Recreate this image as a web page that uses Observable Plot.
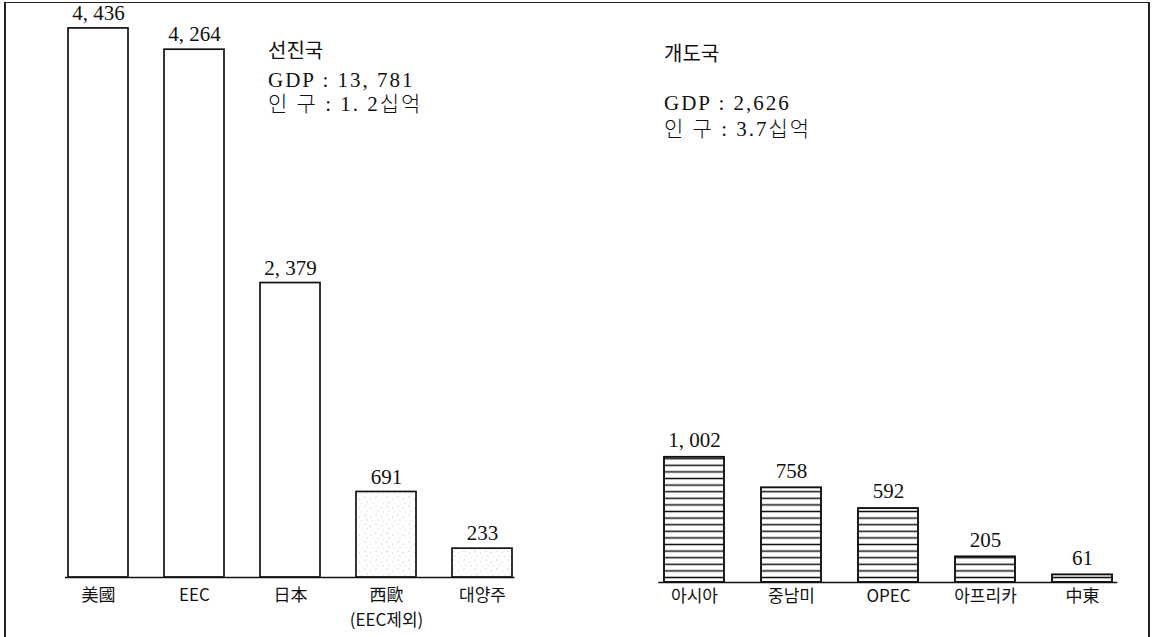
<!DOCTYPE html>
<html><head><meta charset="utf-8">
<script src="https://cdn.jsdelivr.net/npm/d3@7"></script>
<script src="https://cdn.jsdelivr.net/npm/@observablehq/plot@0.6"></script>
<style>
body{margin:0;background:#fff;}
#wrap{position:relative;width:1157px;height:637px;overflow:hidden;background:#fff;}
.frame{position:absolute;left:4px;top:2px;width:1146px;height:700px;border:2px solid #222;border-top-width:1.5px;box-sizing:border-box;}
.hdr{position:absolute;font-family:"Noto Sans CJK KR";font-size:20px;line-height:24px;color:#111;white-space:pre;}
.info{position:absolute;font-family:"Liberation Serif","Noto Sans CJK KR";font-weight:300;font-size:21px;line-height:24px;color:#111;white-space:pre;letter-spacing:2px;}
.plot{position:absolute;top:0;}
</style></head><body>
<div id="wrap">
<div class="frame"></div>
<div class="hdr" style="left:268px;top:38px">선진국</div>
<div class="info" style="left:268px;top:68px">GDP : 13, 781</div>
<div class="info" style="left:268px;top:92px">인 구 : 1. 2십억</div>
<div class="hdr" style="left:664px;top:41px">개도국</div>
<div class="info" style="left:664px;top:91px">GDP : 2,626</div>
<div class="info" style="left:664px;top:117px">인 구 : 3.7십억</div>
</div>
<script>
// 선진국 (developed)
const devNames = ["美國", "EEC", "日本", "西歐", "대양주"];
const devValues = [4436, 4264, 2379, 691, 233];
const devValueLabels = ["4, 436", "4, 264", "2, 379", "691", "233"];
const devTicks = ["美國", "EEC", "日本", "西歐\n(EEC제외)", "대양주"];
// 개도국 (developing)
const lessNames = ["아시아", "중남미", "OPEC", "아프리카", "中東"];
const lessValues = [1002, 758, 592, 205, 61];
const lessValueLabels = ["1, 002", "758", "592", "205", "61"];
const lessTicks = ["아시아", "중남미", "OPEC", "아프리카", "中東"];

const stippled = ["西歐", "대양주"];

const devData = devNames.map((n, i) => ({name: n, value: devValues[i], label: devValueLabels[i], tick: devTicks[i]}));
const lessData = lessNames.map((n, i) => ({name: n, value: lessValues[i], label: lessValueLabels[i], tick: lessTicks[i]}));

const serif = "Liberation Serif";
const sans = "Noto Sans CJK KR";

const left = Plot.plot({
  width: 560, height: 637,
  marginLeft: 50, marginRight: 29.5, marginTop: 20, marginBottom: 60,
  x: {domain: devNames, paddingInner: 0.376, paddingOuter: 0.188, axis: null},
  y: {domain: [0, 4500], axis: null},
  marks: [
    Plot.barY(devData.filter(d => !stippled.includes(d.name)), {x: "name", y: "value", fill: "white", stroke: "#111", strokeWidth: 1.7}),
    Plot.barY(devData.filter(d => stippled.includes(d.name)), {x: "name", y: "value", fill: "url(#stipple)", stroke: "#111", strokeWidth: 1.7}),
    Plot.ruleY([0], {insetLeft: 15, insetRight: 16, stroke: "#111", strokeWidth: 1.6}),
    Plot.text(devData, {x: "name", y: "value", text: "label", dy: -15, lineAnchor: "middle", fontSize: 21, fontFamily: serif, fill: "#111"}),
    Plot.text(devData, {x: "name", text: "tick", frameAnchor: "bottom", lineAnchor: "top", dy: 5, fontSize: 17, lineHeight: 1.5, fontFamily: sans, fill: "#111"})
  ]
});
left.classList.add("plot");
left.style.left = "0px";
d3.select(left).insert("defs", ":first-child").html(`
  <pattern id="stipple" patternUnits="userSpaceOnUse" width="11" height="9">
    <rect width="11" height="9" fill="white"/>
    <circle cx="2" cy="2" r="0.6" fill="#aaa"/>
    <circle cx="7.5" cy="4" r="0.55" fill="#bbb"/>
    <circle cx="4" cy="7" r="0.55" fill="#bbb"/>
    <circle cx="9.5" cy="8" r="0.5" fill="#ccc"/>
  </pattern>`);

const right = Plot.plot({
  width: 557, height: 637,
  marginLeft: 44.3, marginRight: 25.7, marginTop: 20, marginBottom: 55,
  x: {domain: lessNames, paddingInner: 0.384, paddingOuter: 0.192, axis: null},
  y: {domain: [0, 4500], axis: null},
  marks: [
    Plot.barY(lessData, {x: "name", y: "value", fill: "url(#hatch)", stroke: "#111", strokeWidth: 1.9}),
    Plot.ruleY([0], {insetLeft: 14, insetRight: 14, stroke: "#111", strokeWidth: 1.6}),
    Plot.text(lessData, {x: "name", y: "value", text: "label", dy: -17, lineAnchor: "middle", fontSize: 21, fontFamily: serif, fill: "#111"}),
    Plot.text(lessData, {x: "name", text: "tick", frameAnchor: "bottom", lineAnchor: "top", dy: 7, fontSize: 17, fontFamily: sans, fill: "#111"})
  ]
});
right.classList.add("plot");
right.style.left = "600px";
d3.select(right).insert("defs", ":first-child").html(`
  <pattern id="hatch" patternUnits="userSpaceOnUse" width="8" height="6.6">
    <rect width="8" height="6.6" fill="white"/>
    <line x1="0" y1="3.3" x2="8" y2="3.3" stroke="#111" stroke-width="1.5"/>
  </pattern>`);

document.getElementById("wrap").append(left, right);
</script>
</body></html>
